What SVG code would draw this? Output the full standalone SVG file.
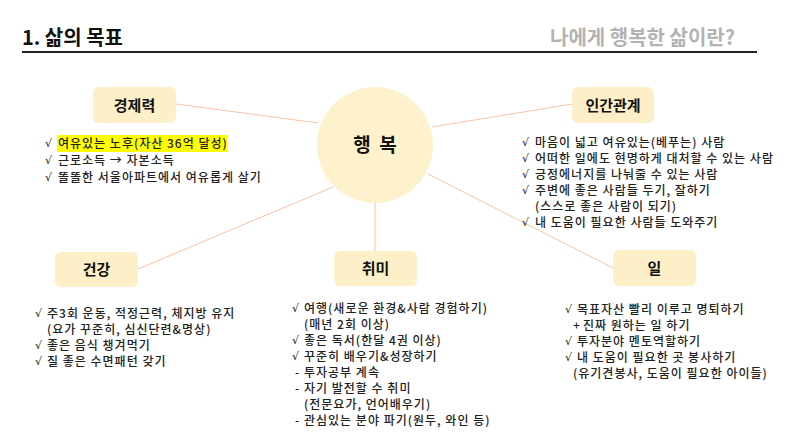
<svg xmlns="http://www.w3.org/2000/svg" width="791" height="445" viewBox="0 0 791 445">
<style>
text{font-family:"Noto Sans CJK KR","Noto Sans",sans-serif;fill:#222}
.node rect.box{fill:#fdf0c8}
.node rect.hl{fill:#ffff00}
.lbl{font-size:15px;font-weight:bold;text-anchor:middle;fill:#111}
.li{font-size:12px;letter-spacing:1px;font-weight:500}
.ck{font-family:"DejaVu Sans",sans-serif;font-size:11px}
.conn line{stroke:#f8c2a4;stroke-width:1}
</style>
<rect width="791" height="445" fill="#fff"/>
<g id="header">
<text x="22" y="45" style="font-size:20px;font-weight:bold;fill:#111">1. 삶의 목표</text>
<text x="735" y="45" style="font-size:20px;font-weight:bold;fill:#b3b3b3;text-anchor:end">나에게 행복한 삶이란?</text>
<line x1="22" y1="52" x2="757" y2="52" stroke="#222" stroke-width="2"/>
</g>
<g id="connectors" class="conn">
<line x1="176" y1="104" x2="318" y2="123"/>
<line x1="432" y1="127" x2="572" y2="104"/>
<line x1="138" y1="269" x2="333" y2="187"/>
<line x1="375" y1="203" x2="375" y2="251"/>
<line x1="428" y1="174" x2="613" y2="268"/>
</g>
<g id="center" class="node">
<circle cx="375" cy="145" r="58" fill="#fef2cc"/>
<text x="375" y="152" style="font-size:19px;font-weight:bold;text-anchor:middle;fill:#111" xml:space="preserve">행  복</text>
</g>
<g id="economy" class="node">
<rect class="box" x="93" y="87" width="83" height="36" rx="6"/>
<text class="lbl" x="134.5" y="110.5">경제력</text>
<rect class="hl" x="57" y="135" width="170" height="17"/>
<text class="ck" x="45" y="147">√</text><text class="li" x="58" y="148">여유있는 노후(자산 36억 달성)</text>
<text class="ck" x="45" y="164">√</text><text class="li" x="58" y="165">근로소득 → 자본소득</text>
<text class="ck" x="45" y="181">√</text><text class="li" x="58" y="182">똘똘한 서울아파트에서 여유롭게 살기</text>
</g>
<g id="relations" class="node">
<rect class="box" x="572" y="87" width="82" height="36" rx="6"/>
<text class="lbl" x="613" y="110.5">인간관계</text>
<text class="ck" x="522" y="146">√</text><text class="li" x="535" y="147">마음이 넓고 여유있는(베푸는) 사람</text>
<text class="ck" x="522" y="162">√</text><text class="li" x="535" y="163">어떠한 일에도 현명하게 대처할 수 있는 사람</text>
<text class="ck" x="522" y="178">√</text><text class="li" x="535" y="179">긍정에너지를 나눠줄 수 있는 사람</text>
<text class="ck" x="522" y="194">√</text><text class="li" x="535" y="195">주변에 좋은 사람들 두기, 잘하기</text>
<text class="li" x="535" y="211">(스스로 좋은 사람이 되기)</text>
<text class="ck" x="522" y="226">√</text><text class="li" x="535" y="227">내 도움이 필요한 사람들 도와주기</text>
</g>
<g id="health" class="node">
<rect class="box" x="55" y="252" width="83" height="35" rx="6"/>
<text class="lbl" x="96.5" y="275">건강</text>
<text class="ck" x="35" y="317">√</text><text class="li" x="47" y="318">주3회 운동, 적정근력, 체지방 유지</text>
<text class="li" x="47" y="334">(요가 꾸준히, 심신단련&amp;명상)</text>
<text class="ck" x="35" y="349">√</text><text class="li" x="47" y="350">좋은 음식 챙겨먹기</text>
<text class="ck" x="35" y="365">√</text><text class="li" x="47" y="366">질 좋은 수면패턴 갖기</text>
</g>
<g id="hobby" class="node">
<rect class="box" x="334" y="251" width="83" height="35" rx="6"/>
<text class="lbl" x="375.5" y="274">취미</text>
<text class="ck" x="292" y="312">√</text><text class="li" x="304" y="313">여행(새로운 환경&amp;사람 경험하기)</text>
<text class="li" x="304" y="329">(매년 2회 이상)</text>
<text class="ck" x="292" y="344">√</text><text class="li" x="304" y="345">좋은 독서(한달 4권 이상)</text>
<text class="ck" x="292" y="360">√</text><text class="li" x="304" y="361">꾸준히 배우기&amp;성장하기</text>
<text class="li" x="295" y="377">-</text><text class="li" x="304" y="377">투자공부 계속</text>
<text class="li" x="295" y="393">-</text><text class="li" x="304" y="393">자기 발전할 수 취미</text>
<text class="li" x="304" y="409">(전문요가, 언어배우기)</text>
<text class="li" x="295" y="425">-</text><text class="li" x="304" y="425">관심있는 분야 파기(원두, 와인 등)</text>
</g>
<g id="work" class="node">
<rect class="box" x="613" y="250" width="83" height="36" rx="6"/>
<text class="lbl" x="654.5" y="273.5">일</text>
<text class="ck" x="565" y="313">√</text><text class="li" x="577" y="314">목표자산 빨리 이루고 명퇴하기</text>
<text class="li" x="573" y="330">+</text><text class="li" x="583" y="330">진짜 원하는 일 하기</text>
<text class="ck" x="565" y="345">√</text><text class="li" x="577" y="346">투자분야 멘토역할하기</text>
<text class="ck" x="565" y="361">√</text><text class="li" x="577" y="362">내 도움이 필요한 곳 봉사하기</text>
<text class="li" x="573" y="378">(유기견봉사, 도움이 필요한 아이들)</text>
</g>
</svg>
